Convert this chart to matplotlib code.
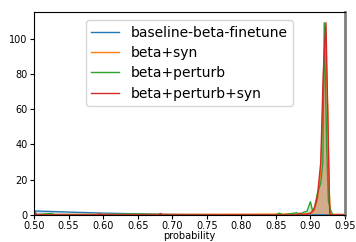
import numpy as np
import matplotlib
matplotlib.use('Agg')
import matplotlib.pyplot as plt

# density curves (x = probability, y = density)
base_x = [0.50, 0.52, 0.55, 0.60, 0.65, 0.70, 0.75, 0.80, 0.85, 0.90, 0.95]
base_y = [2.2, 2.0, 1.6, 1.0, 0.6, 0.3, 0.15, 0.05, 0.0, 0.0, 0.0]

syn_x = [0.50, 0.60, 0.70, 0.80, 0.88, 0.90, 0.905, 0.91, 0.915, 0.918, 0.9215, 0.925, 0.927, 0.929, 0.935, 0.95]
syn_y = [0.3, 0.3, 0.3, 0.4, 0.5, 0.8, 2.0, 8.0, 25.0, 60.0, 105.0, 60.0, 15.0, 0.4, 0.3, 0.3]

pert_x = [0.50, 0.525, 0.53, 0.60, 0.64, 0.70, 0.80, 0.85, 0.855, 0.86, 0.88, 0.885, 0.89, 0.895, 0.90, 0.903, 0.906, 0.91, 0.915, 0.918, 0.920, 0.9235, 0.926, 0.929, 0.931, 0.933, 0.95]
pert_y = [0.0, 0.8, 0.0, 0.0, 0.5, 0.0, 0.0, 0.0, 1.0, 0.0, 1.2, 0.2, 1.5, 2.0, 7.5, 2.5, 4.0, 12.0, 18.0, 30.0, 109.0, 40.0, 8.0, 3.0, 1.0, 0.0, 0.0]

ps_x = [0.50, 0.502, 0.505, 0.59, 0.595, 0.60, 0.68, 0.683, 0.686, 0.80, 0.88, 0.885, 0.89, 0.90, 0.905, 0.91, 0.915, 0.9185, 0.9225, 0.925, 0.927, 0.928, 0.93, 0.95]
ps_y = [3.0, 1.0, 0.0, 0.0, 0.6, 0.0, 0.0, 0.8, 0.0, 0.0, 0.0, 1.0, 0.0, 1.0, 3.0, 10.0, 30.0, 80.0, 109.0, 60.0, 20.0, 0.0, 0.0, 0.0]

series = [
    ('baseline-beta-finetune', base_x, base_y, 'tab:blue'),
    ('beta+syn', syn_x, syn_y, 'tab:orange'),
    ('beta+perturb', pert_x, pert_y, 'tab:green'),
    ('beta+perturb+syn', ps_x, ps_y, 'tab:red'),
]

fig = plt.figure(figsize=(3.56, 2.42), dpi=100)
ax = fig.add_axes([0.0955, 0.112, 0.8735, 0.838])

for name, xs, ys, col in series:
    ax.plot(xs, ys, color=col, linewidth=1.0, label=name)
    ax.fill_between(xs, ys, color=col, alpha=0.22, linewidth=0)

ax.set_xlim(0.50, 0.95)
ax.set_ylim(0, 115)
ax.set_xticks(np.arange(0.50, 0.951, 0.05))
ax.set_xticklabels(['%.2f' % v for v in np.arange(0.50, 0.951, 0.05)])
ax.set_yticks([0, 20, 40, 60, 80, 100])
ax.tick_params(labelsize=7, length=3, pad=1.5)
ax.set_xlabel('probability', fontsize=7, labelpad=0)
ax.spines['right'].set_color('gray')
ax.spines['right'].set_linewidth(2)

leg = ax.legend(fontsize=10, loc='upper left', bbox_to_anchor=(0.167, 0.96),
                borderaxespad=0, handlelength=2.0, labelspacing=0.45, borderpad=0.4)

fig.savefig('out.png', dpi=100)
